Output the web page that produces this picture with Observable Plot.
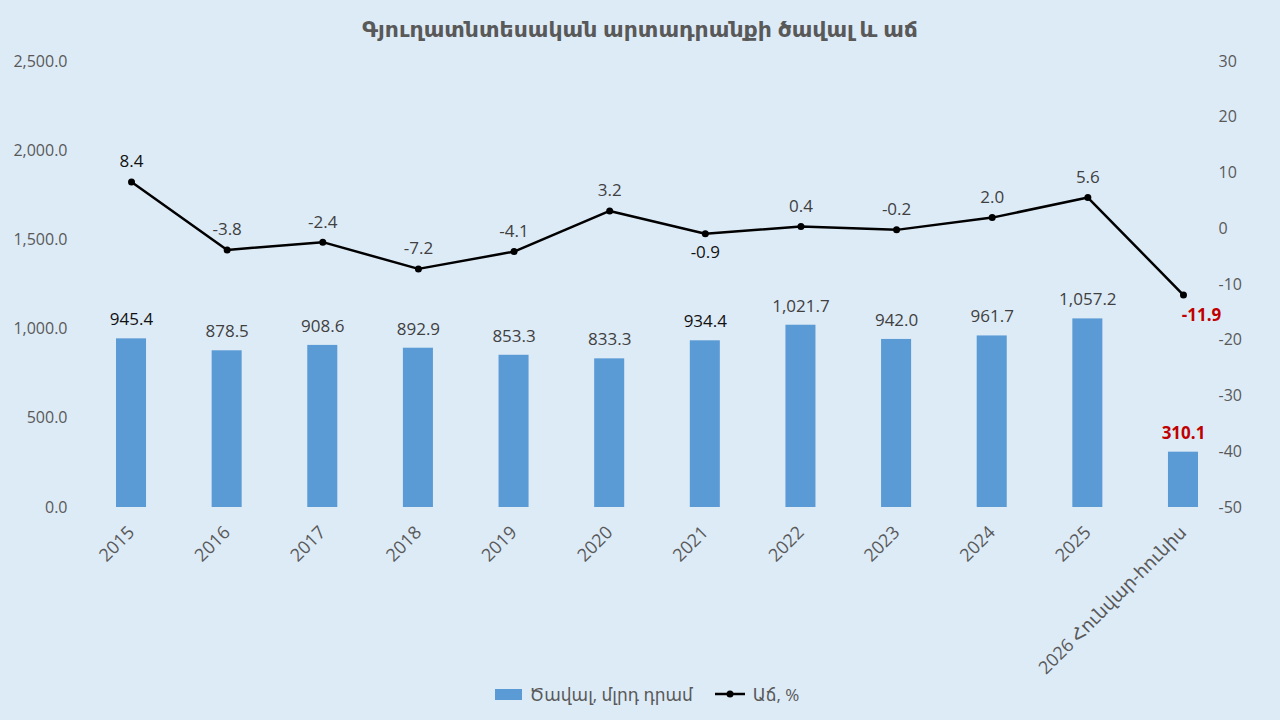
<!DOCTYPE html>
<html><head><meta charset="utf-8">
<script src="https://cdn.jsdelivr.net/npm/d3@7"></script>
<script src="https://cdn.jsdelivr.net/npm/@observablehq/plot@0.6"></script>
<style>
html,body{margin:0;padding:0;background:#DDEBF7;width:1280px;height:720px;overflow:hidden;font-family:"Open Sans","DejaVu Sans",sans-serif;}
#title{height:50px;line-height:56px;text-align:center;font-size:22px;font-weight:bold;color:#595959;}
#chart{height:630px;}
#legend{position:relative;height:40px;margin-top:-6px;display:flex;justify-content:center;align-items:center;font-size:17px;color:#595959;gap:6px;padding-left:14px;}
.sw{display:inline-block;width:27px;height:11px;background:#5B9BD5;margin-right:2px;}
</style></head><body>
<div id="title">Գյուղատնտեսական արտադրանքի ծավալ և աճ</div>
<div id="chart"></div>
<div id="legend"><span class="sw"></span><span>Ծավալ, մլրդ դրամ</span><svg width="34" height="12" style="margin-left:14px"><line x1="2" y1="6" x2="32" y2="6" stroke="black" stroke-width="2.5"/><circle cx="17" cy="6" r="3.5" fill="black"/></svg><span>Աճ, %</span></div>
<script>
const categories = ["2015","2016","2017","2018","2019","2020","2021","2022","2023","2024","2025","2026 Հունվար-հունիս"];
const volume = [945.4, 878.5, 908.6, 892.9, 853.3, 833.3, 934.4, 1021.7, 942.0, 961.7, 1057.2, 310.1];
const growth = [8.4, -3.8, -2.4, -7.2, -4.1, 3.2, -0.9, 0.4, -0.2, 2.0, 5.6, -11.9];
const leftTicks = [0, 500, 1000, 1500, 2000, 2500];
const rightTicks = [-50, -40, -30, -20, -10, 0, 10, 20, 30];

const toLeft = g => (g + 50) * 2500 / 80;
const fromLeft = v => Math.round(v * 80 / 2500 - 50);
const data = categories.map((c, i) => ({cat: c, vol: volume[i], g: growth[i], i}));
const last = categories.length - 1;
const fmt = d3.format(",.1f");
const labelColor = d => (d.i === 0 || d.i === 6) ? "#111111" : "#404040";

const regular = data.filter(d => d.i !== last);
const lastOnly = data.filter(d => d.i === last);
const gAbove = data.filter(d => d.i !== last && d.i !== 6);
const gBelow = data.filter(d => d.i === 6);

const chart = Plot.plot({
  width: 1280, height: 630,
  marginLeft: 70, marginRight: 36, marginTop: 11, marginBottom: 173,
  style: {background: "transparent", fontFamily: '"Open Sans","DejaVu Sans",sans-serif', fontSize: "16px"},
  x: {domain: categories, paddingInner: 0.686, paddingOuter: 0.481, round: false},
  y: {domain: [0, 2500]},
  marks: [
    Plot.axisY(leftTicks, {anchor: "left", tickSize: 0, tickPadding: 3, tickFormat: fmt, color: "#595959", fontSize: 16, label: null}),
    Plot.axisY(rightTicks.map(toLeft), {anchor: "right", tickSize: 0, tickPadding: 3, dx: -29, tickFormat: fromLeft, color: "#595959", fontSize: 16, label: null}),
    Plot.axisX({tickRotate: -45, tickSize: 0, tickPadding: 22, dx: 0, color: "#595959", fontSize: 18, label: null}),
    Plot.barY(data, {x: "cat", y: "vol", fill: "#5B9BD5"}),
    Plot.text(regular, {x: "cat", y: "vol", text: d => fmt(d.vol), dy: -19, fontSize: 17, fill: labelColor}),
    Plot.text(lastOnly, {x: "cat", y: "vol", text: d => fmt(d.vol), dy: -19, fontSize: 17, fill: "#C00000", fontWeight: "bold"}),
    Plot.line(data, {x: "cat", y: d => toLeft(d.g), stroke: "black", strokeWidth: 2.5}),
    Plot.dot(data, {x: "cat", y: d => toLeft(d.g), r: 3.5, fill: "black"}),
    Plot.text(gAbove, {x: "cat", y: d => toLeft(d.g), text: d => d.g.toFixed(1), dy: -20, fontSize: 17, fill: labelColor}),
    Plot.text(gBelow, {x: "cat", y: d => toLeft(d.g), text: d => d.g.toFixed(1), dy: 19, fontSize: 17, fill: labelColor}),
    Plot.text(lastOnly, {x: "cat", y: d => toLeft(d.g), text: d => d.g.toFixed(1), dx: 18, dy: 20, fontSize: 17, fill: "#C00000", fontWeight: "bold"})
  ]
});
document.getElementById("chart").appendChild(chart);
</script>
</body></html>
